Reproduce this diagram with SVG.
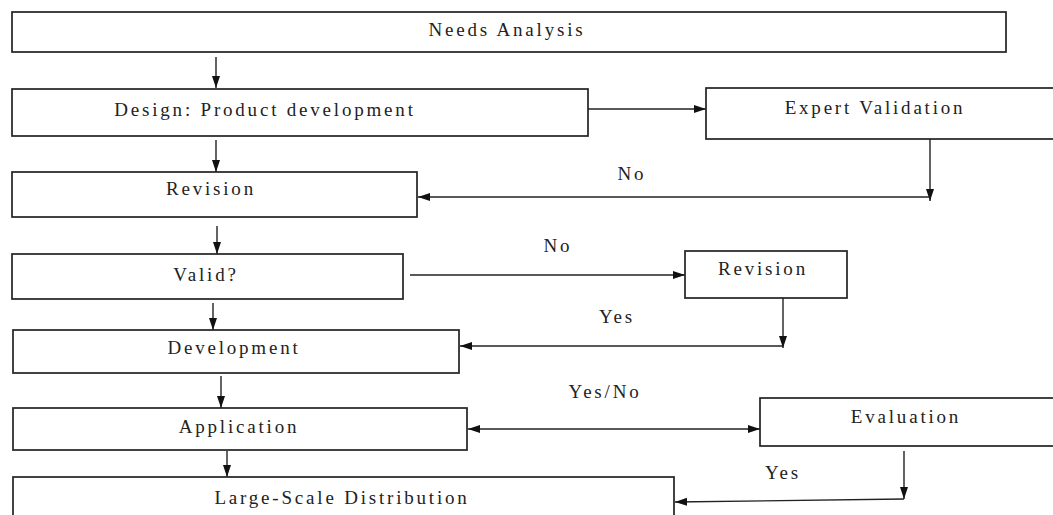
<svg xmlns="http://www.w3.org/2000/svg" width="1053" height="515" viewBox="0 0 1053 515">
<style>
.box{fill:#fff;stroke:#222;stroke-width:1.7}
.lbl{font-family:"Liberation Serif","DejaVu Serif",serif;font-size:19px;fill:#222;letter-spacing:2.8px;text-anchor:middle}
.c{fill:none;stroke:#222;stroke-width:1.4}
.e{marker-end:url(#ah)}
.s{marker-start:url(#ahs)}
</style>
<defs>
<marker id="ah" viewBox="0 0 12 10" refX="12" refY="5" markerWidth="12" markerHeight="10" markerUnits="userSpaceOnUse" orient="auto">
<path d="M0,1 L12,5 L0,9 Z" fill="#111"/>
</marker>
<marker id="ahs" viewBox="0 0 12 10" refX="0" refY="5" markerWidth="12" markerHeight="10" markerUnits="userSpaceOnUse" orient="auto">
<path d="M12,1 L0,5 L12,9 Z" fill="#111"/>
</marker>
</defs>
<rect width="1053" height="515" fill="#fff"/>
<g id="connectors">
<path class="c e" d="M216,57 V88"/>
<path class="c e" d="M216,140 V172"/>
<path class="c e" d="M217,226 V254"/>
<path class="c e" d="M213,303 V330"/>
<path class="c e" d="M221,376 V408"/>
<path class="c e" d="M227,451 V477"/>
<path class="c e" d="M588,109 H706"/>
<path class="c e" d="M930,139 V201"/>
<path class="c e" d="M930,197 H418"/>
<path class="c e" d="M410,275 H685"/>
<path class="c e" d="M783,298 V348"/>
<path class="c e" d="M783,346 H460"/>
<path class="c e s" d="M468,429 H760"/>
<path class="c e" d="M904,451 V499"/>
<path class="c e" d="M904,499 L675,502"/>
</g>
<g id="needs-analysis"><rect class="box" x="12" y="12" width="994" height="40"/><text class="lbl" x="507" y="36">Needs Analysis</text></g>
<g id="design"><rect class="box" x="12" y="89" width="576" height="47"/><text class="lbl" x="265" y="116">Design:  Product development</text></g>
<g id="expert-validation"><rect class="box" x="706" y="88" width="360" height="51"/><text class="lbl" x="875" y="114">Expert Validation</text></g>
<g id="label-no-1"><text class="lbl" x="632" y="180">No</text></g>
<g id="revision-1"><rect class="box" x="12" y="172" width="405" height="45"/><text class="lbl" x="211" y="195">Revision</text></g>
<g id="valid"><rect class="box" x="12" y="254" width="391" height="45"/><text class="lbl" x="206" y="281">Valid?</text></g>
<g id="label-no-2"><text class="lbl" x="558" y="252">No</text></g>
<g id="revision-2"><rect class="box" x="685" y="251" width="162" height="47"/><text class="lbl" x="763" y="275">Revision</text></g>
<g id="label-yes-1"><text class="lbl" x="617" y="323">Yes</text></g>
<g id="development"><rect class="box" x="13" y="330" width="446" height="43"/><text class="lbl" x="234" y="354">Development</text></g>
<g id="label-yesno"><text class="lbl" x="605" y="398">Yes/No</text></g>
<g id="application"><rect class="box" x="13" y="408" width="454" height="42"/><text class="lbl" x="239" y="433">Application</text></g>
<g id="evaluation"><rect class="box" x="760" y="398" width="306" height="48"/><text class="lbl" x="906" y="423">Evaluation</text></g>
<g id="label-yes-2"><text class="lbl" x="783" y="479">Yes</text></g>
<g id="large-scale"><rect class="box" x="13" y="477" width="661" height="60"/><text class="lbl" x="342" y="504">Large-Scale Distribution</text></g>
</svg>
